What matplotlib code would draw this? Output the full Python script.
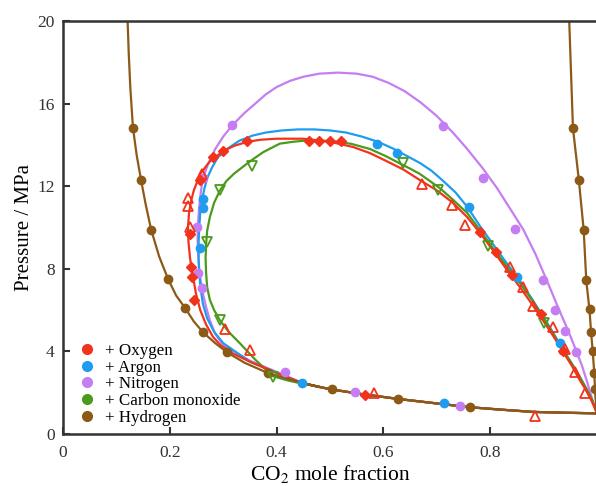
import matplotlib
matplotlib.use("Agg")
import matplotlib.pyplot as plt
from matplotlib.lines import Line2D

plt.rcParams['font.family'] = ['Liberation Serif', 'DejaVu Serif']
plt.rcParams['mathtext.fontset'] = 'stix'

# ---- series names and colours ----
gases = ["Oxygen", "Argon", "Nitrogen", "Carbon monoxide", "Hydrogen"]
colors = ["#f2331c", "#1f9cf0", "#c57ef2", "#4b9a1c", "#8c5a16"]

# ---- shared low-pressure (dew) branch toward pure CO2 ----
tail_x = [1.0, 0.94, 0.88, 0.82, 0.76, 0.70, 0.63, 0.56, 0.50, 0.45]
tail_p = [1.0, 1.03, 1.07, 1.18, 1.30, 1.48, 1.69, 1.93, 2.17, 2.45]

# ---- model phase envelopes (CO2 mole fraction, pressure / MPa) ----
o2_line_x = [0.41, 0.35, 0.318, 0.295, 0.281, 0.268, 0.257, 0.249, 0.243, 0.238, 0.235,
             0.234, 0.236, 0.240, 0.245, 0.257, 0.275, 0.30, 0.32, 0.345, 0.37, 0.40,
             0.45, 0.50, 0.543, 0.575, 0.607, 0.638, 0.668, 0.70, 0.73, 0.757, 0.782,
             0.805, 0.83, 0.856, 0.878, 0.899, 0.918, 0.936, 0.953, 0.968, 0.98, 0.99, 1.0]
o2_line_p = [2.85, 3.5, 3.9, 4.3, 4.7, 5.3, 6.0, 6.8, 7.7, 8.5, 9.3,
             10.0, 10.7, 11.3, 11.8, 12.6, 13.2, 13.7, 13.95, 14.15, 14.25, 14.3,
             14.3, 14.15, 13.9, 13.6, 13.2, 12.8, 12.3, 11.8, 11.2, 10.5, 9.7,
             8.9, 8.0, 7.1, 6.3, 5.5, 4.75, 4.0, 3.3, 2.6, 2.1, 1.6, 1.0]

ar_line_x = [0.41, 0.35, 0.30, 0.283, 0.27, 0.262, 0.258, 0.255, 0.254, 0.254, 0.255,
             0.257, 0.26, 0.265, 0.27, 0.28, 0.29, 0.31, 0.33, 0.355, 0.38, 0.41,
             0.44, 0.47, 0.50, 0.53, 0.56, 0.59, 0.62, 0.645, 0.67, 0.69, 0.71, 0.735,
             0.757, 0.78, 0.805, 0.83, 0.856, 0.878, 0.899, 0.918, 0.936, 0.953, 0.968,
             0.98, 0.99, 1.0]
ar_line_p = [2.85, 3.5, 4.4, 4.95, 5.6, 6.3, 7.0, 7.8, 8.5, 9.3, 10.0,
             10.7, 11.3, 11.9, 12.4, 12.95, 13.4, 13.85, 14.2, 14.45, 14.6, 14.7,
             14.75, 14.75, 14.7, 14.6, 14.4, 14.15, 13.8, 13.45, 13.1, 12.75, 12.3, 11.7,
             11.0, 10.1, 9.2, 8.3, 7.4, 6.55, 5.7, 4.9, 4.1, 3.4, 2.75,
             2.2, 1.7, 1.0]

n2_line_x = [0.41, 0.35, 0.30, 0.285, 0.275, 0.268, 0.262, 0.258, 0.255, 0.253, 0.252,
             0.253, 0.255, 0.258, 0.262, 0.272, 0.285, 0.30, 0.317, 0.34, 0.36, 0.38,
             0.40, 0.425, 0.45, 0.48, 0.515, 0.55, 0.58, 0.61, 0.64, 0.67, 0.70, 0.73,
             0.757, 0.785, 0.813, 0.84, 0.862, 0.885, 0.906, 0.926, 0.946, 0.96, 0.972,
             0.983, 0.992, 1.0]
n2_line_p = [2.9, 3.55, 4.3, 4.85, 5.5, 6.15, 6.8, 7.4, 8.0, 8.75, 9.5,
             10.25, 11.0, 11.7, 12.4, 13.1, 13.8, 14.4, 14.95, 15.55, 16.0, 16.45,
             16.8, 17.1, 17.3, 17.45, 17.5, 17.45, 17.3, 17.0, 16.6, 16.05, 15.4, 14.6,
             13.8, 12.9, 11.9, 10.8, 9.9, 8.7, 7.44, 6.2, 5.0, 4.1, 3.3,
             2.4, 1.6, 1.0]

co_line_x = [0.444, 0.42, 0.393, 0.36, 0.331, 0.31, 0.294, 0.283, 0.275, 0.27, 0.268,
             0.267, 0.268, 0.27, 0.275, 0.283, 0.294, 0.306, 0.32, 0.335, 0.35, 0.375,
             0.406, 0.43, 0.45, 0.475, 0.50, 0.54, 0.575, 0.605, 0.631, 0.65, 0.668,
             0.687, 0.706, 0.73, 0.757, 0.78, 0.805, 0.83, 0.856, 0.878, 0.899, 0.918,
             0.936, 0.953, 0.968, 0.98, 0.99, 1.0]
co_line_p = [2.46, 2.6, 2.8, 3.6, 4.4, 4.95, 5.5, 6.0, 6.5, 7.1, 7.8,
             8.5, 9.2, 9.85, 10.5, 11.2, 11.8, 12.25, 12.6, 12.9, 13.2, 13.65,
             14.06, 14.15, 14.2, 14.2, 14.2, 14.05, 13.8, 13.45, 13.1, 12.85, 12.6,
             12.25, 11.9, 11.35, 10.7, 9.9, 9.0, 8.15, 7.3, 6.5, 5.65, 4.85,
             4.06, 3.4, 2.75, 2.2, 1.7, 1.0]

h2_dew_x = [0.121, 0.123, 0.126, 0.131, 0.138, 0.146, 0.155, 0.165, 0.18, 0.197, 0.212,
            0.229, 0.245, 0.262, 0.285, 0.307, 0.34, 0.384, 0.43, 0.481]
h2_dew_p = [20.0, 18.5, 16.8, 14.83, 13.5, 12.32, 11.1, 9.9, 8.6, 7.49, 6.7,
            6.09, 5.45, 4.93, 4.4, 3.96, 3.45, 2.95, 2.6, 2.27]
h2_bub_x = [1.0, 0.997, 0.995, 0.992, 0.989, 0.986, 0.980, 0.975, 0.966, 0.955, 0.948]
h2_bub_p = [1.0, 1.8, 2.9, 4.0, 4.9, 6.0, 7.4, 9.9, 12.3, 14.8, 20.0]

# ---- experimental points ----
o2_pts_x = [0.238, 0.240, 0.242, 0.245, 0.257, 0.281, 0.30, 0.345, 0.46, 0.48, 0.50,
            0.52, 0.78, 0.81, 0.84, 0.895, 0.936, 0.566]
o2_pts_p = [9.7, 8.1, 7.6, 6.5, 12.3, 13.4, 13.7, 14.2, 14.2, 14.2, 14.2,
            14.2, 9.8, 8.8, 7.7, 5.8, 4.0, 1.88]
o2_tri_x = [0.234, 0.234, 0.238, 0.26, 0.303, 0.35, 0.583, 0.672, 0.728, 0.752,
            0.837, 0.862, 0.880, 0.918, 0.940, 0.959, 0.977, 0.884]
o2_tri_p = [11.06, 11.45, 10.0, 12.6, 5.1, 4.06, 1.98, 12.1, 11.1, 10.1,
            8.1, 7.1, 6.2, 5.2, 4.1, 3.0, 2.0, 0.87]

ar_pts_x = [0.262, 0.257, 0.262, 0.447, 0.588, 0.625, 0.713, 0.76, 0.85, 0.93]
ar_pts_p = [10.96, 9.0, 11.4, 2.46, 14.06, 13.6, 1.5, 11.0, 7.6, 4.4]

n2_pts_x = [0.262, 0.317, 0.253, 0.251, 0.26, 0.416, 0.547, 0.743, 0.712, 0.787,
            0.847, 0.898, 0.922, 0.941, 0.96]
n2_pts_p = [12.4, 14.95, 7.8, 10.0, 7.05, 3.0, 2.03, 1.35, 14.9, 12.4,
            9.95, 7.44, 6.0, 5.0, 3.96]

co_tri_x = [0.27, 0.294, 0.354, 0.294, 0.393, 0.637, 0.702, 0.796, 0.901]
co_tri_p = [9.3, 11.8, 13.0, 5.5, 2.75, 13.1, 11.8, 9.1, 5.36]

h2_pts_x = [0.131, 0.146, 0.165, 0.197, 0.229, 0.262, 0.307, 0.384, 0.504, 0.628, 0.763,
            0.955, 0.966, 0.975, 0.980, 0.986, 0.989, 0.992, 0.995, 0.997]
h2_pts_p = [14.83, 12.32, 9.9, 7.49, 6.09, 4.93, 3.96, 2.95, 2.17, 1.69, 1.30,
            14.8, 12.3, 9.9, 7.45, 6.05, 4.95, 4.0, 2.95, 2.2]

fig = plt.figure(figsize=(5.96, 4.86), dpi=100)
ax = fig.add_axes([63 / 596, 52 / 486, 534 / 596, 413 / 486])

lw = 1.6
# envelopes, each closed through the shared tail
for lx, lp, c in [(n2_line_x, n2_line_p, colors[2]),
                  (ar_line_x, ar_line_p, colors[1]),
                  (co_line_x, co_line_p, colors[3]),
                  (o2_line_x, o2_line_p, colors[0])]:
    ax.plot(tail_x + lx, tail_p + lp, color=c, lw=lw, zorder=2,
            solid_joinstyle='round')

ax.plot(h2_dew_x + tail_x[::-1], h2_dew_p + tail_p[::-1], color=colors[4], lw=lw, zorder=2,
        solid_joinstyle='round')
ax.plot(h2_bub_x, h2_bub_p, color=colors[4], lw=lw, zorder=2)

ms = 6
ax.plot(n2_pts_x, n2_pts_p, 'o', color=colors[2], ms=ms, zorder=3)
ax.plot(ar_pts_x, ar_pts_p, 'o', color=colors[1], ms=ms, zorder=3)
ax.plot(h2_pts_x, h2_pts_p, 'o', color=colors[4], ms=ms, zorder=3)
ax.plot(co_tri_x, co_tri_p, 'v', mfc='none', mec=colors[3], mew=1.3, ms=7, zorder=3)
ax.plot(o2_tri_x, o2_tri_p, '^', mfc='none', mec=colors[0], mew=1.3, ms=7, zorder=3)
ax.plot(o2_pts_x, o2_pts_p, 'D', color=colors[0], ms=5, zorder=3)

ax.set_xlim(0, 1)
ax.set_ylim(0, 20)
ax.set_xticks([0, 0.2, 0.4, 0.6, 0.8])
ax.set_xticklabels(["0", "0.2", "0.4", "0.6", "0.8"])
ax.set_yticks([0, 4, 8, 12, 16, 20])
ax.tick_params(direction='in', length=5, width=1.5, labelsize=12.5, colors='#333333')
ax.tick_params(axis='x', pad=8)
ax.tick_params(axis='y', pad=6)
for s in ax.spines.values():
    s.set_linewidth(1.8)
    s.set_color('#333333')

ax.set_xlabel(r"CO$_2$ mole fraction", fontsize=15.5, labelpad=1)
ax.set_ylabel("Pressure / MPa", fontsize=15, labelpad=2)

handles = [Line2D([], [], ls='none', marker='o', color=c, ms=7) for c in colors]
ax.legend(handles, ["+ " + g for g in gases], loc='lower left',
          bbox_to_anchor=(0.026, 0.02), frameon=False, fontsize=12.2,
          handletextpad=0.45, labelspacing=0.04, borderpad=0, borderaxespad=0,
          handlelength=1.2)

fig.savefig("out.png", dpi=100)
